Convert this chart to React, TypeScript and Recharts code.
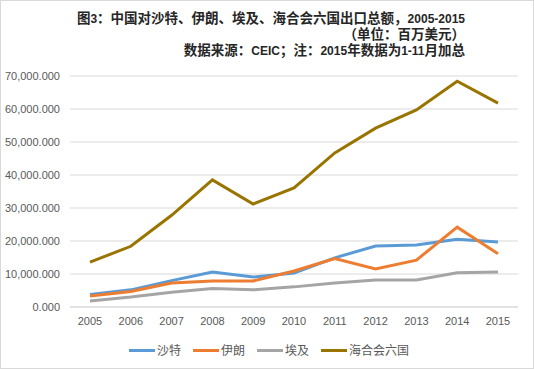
import React from "react";
import { LineChart, Line, XAxis, YAxis, CartesianGrid } from "recharts";

const years = ["2005", "2006", "2007", "2008", "2009", "2010", "2011", "2012", "2013", "2014", "2015"];
const saudi = [3800, 5200, 8000, 10600, 9100, 10300, 14900, 18500, 18800, 20500, 19700];
const iran = [3300, 4700, 7300, 7900, 7900, 10900, 14700, 11500, 14200, 24200, 16100];
const egypt = [1800, 3000, 4500, 5600, 5200, 6100, 7300, 8200, 8200, 10400, 10600];
const gcc = [13600, 18400, 27800, 38500, 31200, 36100, 46700, 54200, 59700, 68400, 61800];
const yTicks = [0, 10000, 20000, 30000, 40000, 50000, 60000, 70000];

const seriesNames = ["沙特", "伊朗", "埃及", "海合会六国"];
const seriesColors = ["#5B9BD5", "#ED7D31", "#A5A5A5", "#9A7400"];

const data = years.map((y, i) => ({
  year: y,
  s0: saudi[i],
  s1: iran[i],
  s2: egypt[i],
  s3: gcc[i],
}));

const fmt = (v: number) =>
  v.toLocaleString("en-US", { minimumFractionDigits: 3, maximumFractionDigits: 3 });

const latin = { fontFamily: "'Liberation Sans', sans-serif", fontSize: 12 };

export default function App() {
  return (
    <div style={{ position: "relative", width: 534, height: 369, background: "#fff" }}>
      <style>{`body{margin:0}`}</style>
      <div
        style={{
          position: "absolute",
          left: 0,
          top: 0,
          width: 532,
          height: 367,
          border: "1px solid #d9d9d9",
          pointerEvents: "none",
        }}
      />
      <div
        style={{
          position: "absolute",
          right: 69,
          top: 9,
          textAlign: "right",
          fontFamily: "'Noto Sans CJK SC', sans-serif",
          fontWeight: 700,
          fontSize: 13.5,
          lineHeight: "16px",
          color: "#262626",
          whiteSpace: "nowrap",
        }}
      >
        <div style={{ height: 16 }}>
          图<span style={latin}>3</span>：中国对沙特、伊朗、埃及、海合会六国出口总额，
          <span style={latin}>2005-2015</span>
        </div>
        <div style={{ height: 16 }}>（单位：百万美元）</div>
        <div style={{ height: 16 }}>
          数据来源：<span style={latin}>CEIC</span>；注：<span style={latin}>2015</span>年数据为
          <span style={latin}>1-11</span>月加总
        </div>
      </div>
      <LineChart
        width={534}
        height={369}
        data={data}
        margin={{ top: 76, right: 16, bottom: 32, left: 0 }}
      >
        <CartesianGrid vertical={false} stroke="#d9d9d9" />
        <XAxis
          dataKey="year"
          height={30}
          axisLine={{ stroke: "#d9d9d9" }}
          tickLine={false}
          padding={{ left: 20, right: 20 }}
          tick={{ fill: "#595959", fontSize: 11, fontFamily: "'Liberation Sans', sans-serif" }}
          tickMargin={4}
        />
        <YAxis
          width={70}
          domain={[0, 70000]}
          ticks={yTicks}
          axisLine={false}
          tickLine={false}
          tickFormatter={fmt}
          tick={{ fill: "#595959", fontSize: 11, fontFamily: "'Liberation Sans', sans-serif" }}
          tickMargin={4}
          interval={0}
        />
        {seriesNames.map((n, i) => (
          <Line
            key={n}
            type="linear"
            dataKey={`s${i}`}
            name={n}
            stroke={seriesColors[i]}
            strokeWidth={3}
            dot={false}
            activeDot={false}
            isAnimationActive={false}
          />
        ))}
      </LineChart>
      <div
        style={{
          position: "absolute",
          top: 341,
          left: 0,
          width: 534,
          display: "flex",
          justifyContent: "center",
          alignItems: "center",
          gap: 12,
          fontFamily: "'Noto Sans CJK SC', sans-serif",
          fontSize: 12,
          lineHeight: "18px",
          color: "#595959",
          paddingLeft: 4,
          boxSizing: "border-box",
        }}
      >
        {seriesNames.map((n, i) => (
          <div key={n} style={{ display: "flex", alignItems: "center" }}>
            <div style={{ width: 26, height: 3, background: seriesColors[i], marginRight: 2 }} />
            <span>{n}</span>
          </div>
        ))}
      </div>
    </div>
  );
}
